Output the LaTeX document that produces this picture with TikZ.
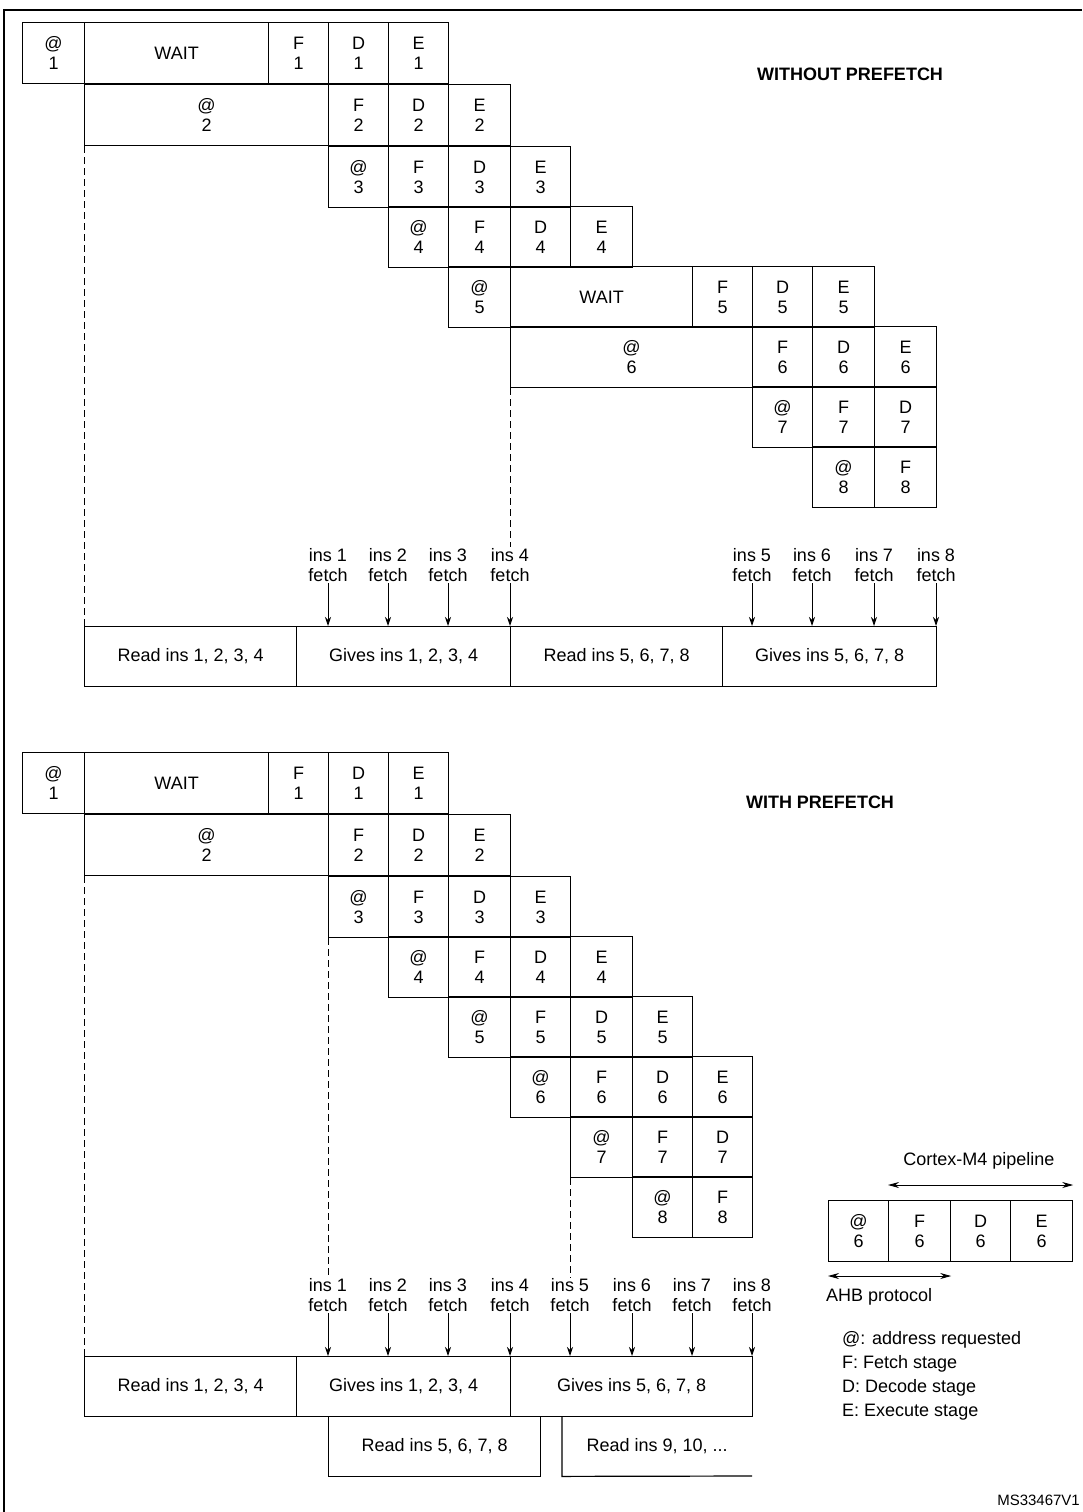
\documentclass[tikz,border=0pt]{standalone}
\usepackage{fontspec}
\setmainfont{Liberation Sans}
\usetikzlibrary{arrows.meta,positioning}
\tikzset{
  >=Stealth,
  every node/.append style={font=\fontsize{18}{20}\selectfont},
}
% one pipeline cell: name, left x, right x, top y, text
\newcommand\stagecell[5]{\node[cell, minimum width={(#3-#2)*1pt}] (#1) at (#2,#4) {#5};}

\begin{document}
\begin{tikzpicture}[
  x=1pt, y=-1pt,
  cell/.style={draw, line width=1.2pt, anchor=north west, align=center, inner sep=0pt, minimum height=61pt},
  bar/.style={draw, line width=1.2pt, anchor=north west, inner sep=0pt, minimum height=60pt},
  fetch/.style={align=center, inner sep=1pt},
  arrowDown/.style={-{Stealth[length=9pt,width=6pt]}, line width=0.9pt},
  guide/.style={dashed, dash pattern=on 7pt off 4pt, line width=0.7pt},
  title/.style={font=\fontsize{18}{20}\selectfont\bfseries}
]
\useasboundingbox (0,0) rectangle (1082,1512);
\draw[line width=1.2pt] (4,1512) -- (4,10) -- (1082,10);

% ---------- without prefetch
\stagecell{a1}{22}{84}{22}{@\\1}
\stagecell{w1}{84}{268}{22}{WAIT}
\stagecell{f1}{268}{328}{22}{F\\1}
\stagecell{d1}{328}{388}{22}{D\\1}
\stagecell{e1}{388}{448}{22}{E\\1}
\stagecell{a2}{84}{328}{84}{@\\2}
\stagecell{f2}{328}{388}{84}{F\\2}
\stagecell{d2}{388}{448}{84}{D\\2}
\stagecell{e2}{448}{510}{84}{E\\2}
\stagecell{a3}{328}{388}{146}{@\\3}
\stagecell{f3}{388}{448}{146}{F\\3}
\stagecell{d3}{448}{510}{146}{D\\3}
\stagecell{e3}{510}{570}{146}{E\\3}
\stagecell{a4}{388}{448}{206}{@\\4}
\stagecell{f4}{448}{510}{206}{F\\4}
\stagecell{d4}{510}{570}{206}{D\\4}
\stagecell{e4}{570}{632}{206}{E\\4}
\stagecell{a5}{448}{510}{266}{@\\5}
\stagecell{w5}{510}{692}{266}{WAIT}
\stagecell{f5}{692}{752}{266}{F\\5}
\stagecell{d5}{752}{812}{266}{D\\5}
\stagecell{e5}{812}{874}{266}{E\\5}
\stagecell{a6}{510}{752}{326}{@\\6}
\stagecell{f6}{752}{812}{326}{F\\6}
\stagecell{d6}{812}{874}{326}{D\\6}
\stagecell{e6}{874}{936}{326}{E\\6}
\stagecell{a7}{752}{812}{386}{@\\7}
\stagecell{f7}{812}{874}{386}{F\\7}
\stagecell{d7}{874}{936}{386}{D\\7}
\stagecell{a8}{812}{874}{446}{@\\8}
\stagecell{f8}{874}{936}{446}{F\\8}

\node[title] (without) at (850,74) {WITHOUT PREFETCH};

\node[bar, minimum width=212pt] (r14) at (84,626) {Read ins 1, 2, 3, 4};
\node[bar, minimum width=214pt] (g14) at (296,626) {Gives ins 1, 2, 3, 4};
\node[bar, minimum width=212pt] (r58) at (510,626) {Read ins 5, 6, 7, 8};
\node[bar, minimum width=214pt] (g58) at (722,626) {Gives ins 5, 6, 7, 8};

\foreach \x/\n in {328/1, 388/2, 448/3, 510/4, 752/5, 812/6, 874/7, 936/8} {
  \node[fetch, anchor=south] (t\n) at (\x,583) {ins \n\\fetch};
  \draw[arrowDown] (t\n.south) -- (t\n.south |- r14.north);
}
\draw[guide] (a2.south west) -- (r14.south west);
\draw[guide] (a6.south west) -- (t4.north);

% ---------- with prefetch
\stagecell{pa1}{22}{84}{752}{@\\1}
\stagecell{pw1}{84}{268}{752}{WAIT}
\stagecell{pf1}{268}{328}{752}{F\\1}
\stagecell{pd1}{328}{388}{752}{D\\1}
\stagecell{pe1}{388}{448}{752}{E\\1}
\stagecell{pa2}{84}{328}{814}{@\\2}
\stagecell{pf2}{328}{388}{814}{F\\2}
\stagecell{pd2}{388}{448}{814}{D\\2}
\stagecell{pe2}{448}{510}{814}{E\\2}
\stagecell{pa3}{328}{388}{876}{@\\3}
\stagecell{pf3}{388}{448}{876}{F\\3}
\stagecell{pd3}{448}{510}{876}{D\\3}
\stagecell{pe3}{510}{570}{876}{E\\3}
\stagecell{pa4}{388}{448}{936}{@\\4}
\stagecell{pf4}{448}{510}{936}{F\\4}
\stagecell{pd4}{510}{570}{936}{D\\4}
\stagecell{pe4}{570}{632}{936}{E\\4}
\stagecell{pa5}{448}{510}{996}{@\\5}
\stagecell{pf5}{510}{570}{996}{F\\5}
\stagecell{pd5}{570}{632}{996}{D\\5}
\stagecell{pe5}{632}{692}{996}{E\\5}
\stagecell{pa6}{510}{570}{1056}{@\\6}
\stagecell{pf6}{570}{632}{1056}{F\\6}
\stagecell{pd6}{632}{692}{1056}{D\\6}
\stagecell{pe6}{692}{752}{1056}{E\\6}
\stagecell{pa7}{570}{632}{1116}{@\\7}
\stagecell{pf7}{632}{692}{1116}{F\\7}
\stagecell{pd7}{692}{752}{1116}{D\\7}
\stagecell{pa8}{632}{692}{1176}{@\\8}
\stagecell{pf8}{692}{752}{1176}{F\\8}

\node[title] (with) at (820,802) {WITH PREFETCH};

\node[bar, minimum width=212pt] (pr14) at (84,1356) {Read ins 1, 2, 3, 4};
\node[bar, minimum width=214pt] (pg14) at (296,1356) {Gives ins 1, 2, 3, 4};
\node[bar, minimum width=242pt] (pg58) at (510,1356) {Gives ins 5, 6, 7, 8};
\node[bar, minimum width=212pt] (pr58) at (328,1416) {Read ins 5, 6, 7, 8};
\coordinate (openEnd) at (752,1476);
\node[anchor=north west, inner sep=0pt, minimum width=190pt, minimum height=60pt] (pr9) at (562,1416) {Read ins 9, 10, ...};
\draw[line width=1.2pt] (pr9.north west) -- (pr9.south west) -- (openEnd);

\foreach \x/\n in {328/1, 388/2, 448/3, 510/4, 570/5, 632/6, 692/7, 752/8} {
  \node[fetch, anchor=south] (pt\n) at (\x,1313) {ins \n\\fetch};
  \draw[arrowDown] (pt\n.south) -- (pt\n.south |- pr14.north);
}
\draw[guide] (pa2.south west) -- (pr14.south west);
\draw[guide] (pa3.south west) -- (pt1.north);
\draw[guide] (pa7.south west) -- (pt5.north);

% ---------- legend
\stagecell{la}{828}{888}{1200}{@\\6}
\stagecell{lf}{888}{950}{1200}{F\\6}
\stagecell{ld}{950}{1010}{1200}{D\\6}
\stagecell{le}{1010}{1072}{1200}{E\\6}
\node[anchor=south] (cortex) at (979,1173) {Cortex-M4 pipeline};
\draw[{Stealth[length=11pt,width=6pt]}-{Stealth[length=11pt,width=6pt]}, line width=0.9pt] (lf.north west |- 0,1185) -- (le.north east |- 0,1185);
\draw[{Stealth[length=11pt,width=6pt]}-{Stealth[length=11pt,width=6pt]}, line width=0.9pt] (la.south west |- 0,1276) -- (lf.south east |- 0,1276);
\node[anchor=north west, inner sep=0pt] (ahb) at (826,1288) {AHB protocol};
\node[anchor=north west, align=left, inner sep=0pt, font=\fontsize{18}{24}\selectfont] (keys) at (842,1331)
  {@: address requested\\F: Fetch stage\\D: Decode stage\\E: Execute stage};
\node[anchor=south east, inner sep=0pt, font=\fontsize{15}{17}\selectfont] (ref) at (1080,1506) {MS33467V1};
\end{tikzpicture}
\end{document}
